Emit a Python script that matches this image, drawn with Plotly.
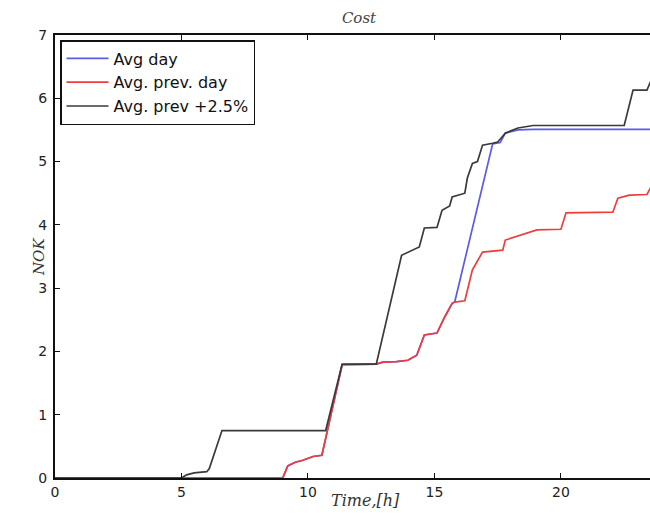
import plotly.graph_objects as go

# Hourly cumulative cost, NOK
t_avg_prev_pct = [0, 5.0, 5.2, 5.5, 6.0, 6.1, 6.6, 10.7, 11.35, 12.7, 13.7, 14.0, 14.4,
                  14.6, 15.1, 15.3, 15.6, 15.7, 16.2, 16.3, 16.5, 16.7, 16.9, 17.3, 17.5,
                  17.8, 18.3, 18.9, 22.5, 22.85, 23.4, 23.6]
c_avg_prev_pct = [0, 0, 0.05, 0.08, 0.1, 0.15, 0.75, 0.75, 1.8, 1.8, 3.52, 3.58, 3.65,
                  3.95, 3.96, 4.23, 4.3, 4.44, 4.5, 4.74, 4.97, 5.0, 5.26, 5.29, 5.31,
                  5.45, 5.53, 5.57, 5.57, 6.13, 6.13, 6.32]

t_avg_prev = [0, 9.0, 9.2, 9.5, 9.8, 10.2, 10.55, 11.35, 12.7, 12.96, 13.5, 13.95, 14.3,
              14.6, 15.1, 15.4, 15.7, 15.8, 16.2, 16.5, 16.9, 17.7, 17.8, 18.4, 19.05,
              20.0, 20.2, 22.05, 22.25, 22.7, 23.4, 23.6]
c_avg_prev = [0, 0, 0.19, 0.25, 0.28, 0.34, 0.36, 1.79, 1.8, 1.83, 1.84, 1.86, 1.94,
              2.26, 2.29, 2.54, 2.76, 2.78, 2.8, 3.29, 3.57, 3.6, 3.76, 3.84, 3.92,
              3.93, 4.19, 4.2, 4.42, 4.47, 4.48, 4.63]

t_avg_day = [0, 9.0, 9.2, 9.5, 9.8, 10.2, 10.55, 11.35, 12.7, 12.96, 13.5, 13.95, 14.3,
             14.6, 15.1, 15.4, 15.7, 15.8, 17.3, 17.6, 17.8, 18.3, 18.9, 23.6]
c_avg_day = [0, 0, 0.19, 0.25, 0.28, 0.34, 0.36, 1.79, 1.8, 1.83, 1.84, 1.86, 1.94,
             2.26, 2.29, 2.54, 2.76, 2.78, 5.28, 5.3, 5.45, 5.5, 5.51, 5.51]

x_ticks = [0, 5, 10, 15, 20]
y_ticks = [0, 1, 2, 3, 4, 5, 6, 7]

W, H = 650, 524
ML, MT, MB = 55, 35, 46
PW, PH = W - ML, H - MT - MB

def px(x):
    return (x - ML) / PW

def py(y):
    return (H - MB - y) / PH

fig = go.Figure()
fig.add_trace(go.Scatter(x=t_avg_day, y=c_avg_day, mode="lines", name="Avg day",
                         line=dict(color="#5b5bea", width=1.7)))
fig.add_trace(go.Scatter(x=t_avg_prev, y=c_avg_prev, mode="lines", name="Avg. prev. day",
                         line=dict(color="#f03c3c", width=1.7)))
fig.add_trace(go.Scatter(x=t_avg_prev_pct, y=c_avg_prev_pct, mode="lines",
                         name="Avg. prev +2.5%", line=dict(color="#3a3a3a", width=1.7)))

serif = "DejaVu Serif"
sans = "DejaVu Sans"

fig.update_layout(
    width=W, height=H,
    margin=dict(l=ML, r=0, t=MT, b=MB),
    paper_bgcolor="white", plot_bgcolor="white",
    showlegend=True,
    legend=dict(x=px(60), y=py(40), xanchor="left", yanchor="top",
                bgcolor="white", bordercolor="#111", borderwidth=1.5,
                font=dict(family=sans, size=16, color="#111"),
                traceorder="normal", itemwidth=42),
    title=dict(text="<i>Cost</i>", x=359 / W, xref="container", xanchor="center",
               y=1 - 18 / H, yref="container", yanchor="middle",
               font=dict(family=serif, size=15, color="#444")),
    annotations=[
        dict(text="<i>Time,[h]</i>", x=px(365), y=py(512), xref="paper", yref="paper",
             showarrow=False, font=dict(family=serif, size=16, color="#333")),
        dict(text="<i>NOK</i>", x=px(28), y=py(257), xref="paper", yref="paper",
             showarrow=False, textangle=-90, font=dict(family=serif, size=15, color="#333")),
    ],
)

fig.update_xaxes(range=[0, 23.52], tickvals=x_ticks, ticks="inside", ticklen=5,
                 tickwidth=1, tickcolor="#111", showline=True, linecolor="#111",
                 linewidth=2, mirror="ticks", showgrid=False, zeroline=False,
                 tickfont=dict(family=sans, size=14, color="#222"))
fig.update_yaxes(range=[0, 7], tickvals=y_ticks, ticks="inside", ticklen=5,
                 tickwidth=1, tickcolor="#111", showline=True, linecolor="#111",
                 linewidth=2, mirror=False, showgrid=False, zeroline=False,
                 ticklabelstandoff=3,
                 tickfont=dict(family=sans, size=14, color="#222"))

fig.write_html("out.html")
